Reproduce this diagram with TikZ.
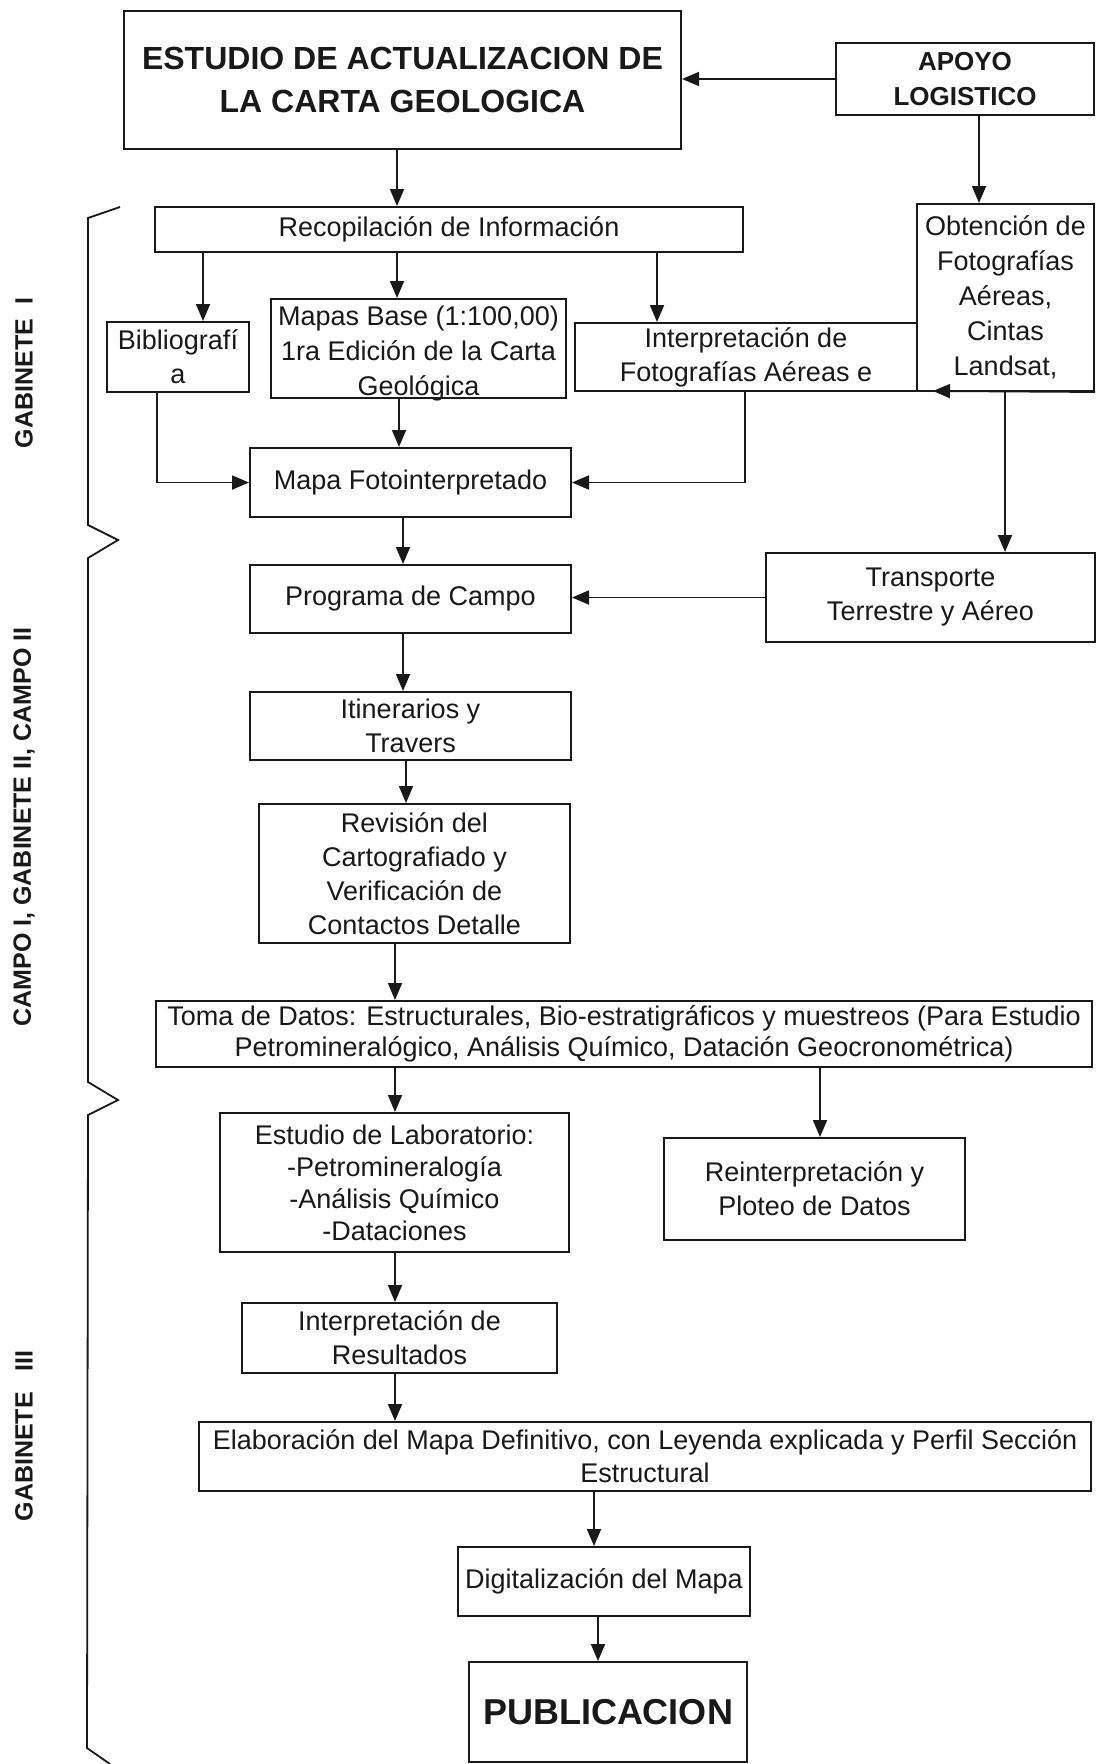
\documentclass[tikz,border=0pt]{standalone}
\usepackage{fontspec}
\setmainfont{Liberation Sans}
\usetikzlibrary{arrows.meta}
\definecolor{ink}{RGB}{25,25,25}
\begin{document}
\begin{tikzpicture}[x=1pt,y=-1pt,
  box/.style={draw=ink, line width=2pt, inner sep=0pt, align=center, text=ink,
              font=\fontsize{27}{34}\selectfont},
  txt/.style={inner sep=0pt, align=center, text=ink, font=\fontsize{27}{35}\selectfont},
  arr/.style={draw=ink, line width=1.8pt, -{Triangle[length=17pt,width=14pt]}},
  ln/.style={draw=ink, line width=1.8pt},
  side/.style={font=\bfseries\fontsize{25}{30}\selectfont, rotate=90, text=ink, inner sep=0pt}]
\useasboundingbox[fill=white] (0,0) rectangle (1097,1764);

% boxes
\node[box, minimum width=557pt, minimum height=138pt, font=\bfseries\fontsize{32}{43}\selectfont]
  (main) at (402.5,80) {ESTUDIO DE ACTUALIZACION DE\\LA CARTA GEOLOGICA};
\node[box, minimum width=258pt, minimum height=72pt, font=\bfseries\fontsize{26}{35}\selectfont]
  (apoyo) at (965,79) {APOYO\\LOGISTICO};
\node[box, minimum width=588pt, minimum height=45pt] (recop) at (449,229.5) {Recopilación de Información};
\node[box, minimum width=177pt, minimum height=187pt, font=\fontsize{27}{35}\selectfont]
  (obt) at (1005.5,297.5) {Obtención de\\Fotografías\\Aéreas,\\Cintas\\Landsat,};
\node[box, minimum width=142pt, minimum height=70pt] (biblio) at (178,357) {Bibliografí\\a};
\node[box, minimum width=295pt, minimum height=99pt] (mapas) at (418.5,348.5) {};
\node[txt] (mapast) at (418.5,354) {Mapas Base (1:100,00)\\1ra Edición de la Carta\\Geológica};
\node[box, minimum width=342pt, minimum height=68pt] (interp) at (746,357) {Interpretación de\\Fotografías Aéreas e};
\node[box, minimum width=321pt, minimum height=69pt] (mapafoto) at (410.5,482.5) {Mapa Fotointerpretado};
\node[box, minimum width=329pt, minimum height=89pt] (transp) at (930.5,597.5) {Transporte\\Terrestre y Aéreo};
\node[box, minimum width=321pt, minimum height=68pt] (prog) at (410.5,599) {Programa de Campo};
\node[box, minimum width=321pt, minimum height=68pt] (itin) at (410.5,726) {Itinerarios y\\Travers};
\node[box, minimum width=311pt, minimum height=139pt] (revis) at (414.5,873.5)
  {Revisión del\\Cartografiado y\\Verificación de\\Contactos Detalle};
\node[box, minimum width=936pt, minimum height=66pt, font=\fontsize{27}{31}\selectfont] (toma) at (624,1034)
  {Toma de Datos: Estructurales, Bio-estratigráficos y muestreos (Para Estudio\\Petromineralógico, Análisis Químico, Datación Geocronométrica)};
\node[box, minimum width=349pt, minimum height=139pt, font=\fontsize{27}{32}\selectfont] (estudio) at (394.5,1182.5)
  {Estudio de Laboratorio:\\-Petromineralogía\\-Análisis Químico\\-Dataciones};
\node[box, minimum width=301pt, minimum height=102pt] (reint) at (814.5,1189) {Reinterpretación y\\Ploteo de Datos};
\node[box, minimum width=315pt, minimum height=70pt] (intres) at (399.5,1338) {Interpretación de\\Resultados};
\node[box, minimum width=892pt, minimum height=69pt, font=\fontsize{27}{33}\selectfont] (elab) at (645,1456.5)
  {Elaboración del Mapa Definitivo, con Leyenda explicada y Perfil Sección\\Estructural};
\node[box, minimum width=292pt, minimum height=69pt] (digit) at (604,1581.5) {Digitalización del Mapa};
\node[box, minimum width=278pt, minimum height=100pt, font=\bfseries\fontsize{36}{40}\selectfont]
  (pub) at (608,1712) {PUBLICACION};

% side labels
\node[side] (lab1) at (24,373) {GABINETE\ \ I};
\node[side] (lab2) at (24,827) {CAMPO I, GABINETE II, CAMPO II};
\node[side] (lab3) at (24,1436) {GABINETE\ \ \ III};

% x positions of connectors
\coordinate (xa) at (397,0);
\coordinate (xb) at (979,0);
\coordinate (xc) at (203,0);
\coordinate (xd) at (657,0);
\coordinate (xe) at (1005,0);
\coordinate (xf) at (157,0);
\coordinate (xg) at (745,0);
\coordinate (xh) at (399,0);
\coordinate (xi) at (403,0);
\coordinate (xj) at (406,0);
\coordinate (xk) at (395,0);
\coordinate (xl) at (820,0);
\coordinate (xm) at (594,0);
\coordinate (xn) at (598,0);
\coordinate (obtend) at (933,391);

% connectors
\draw[arr] (apoyo.west) -- (main.east |- apoyo.west);
\draw[arr] (main.south -| xa) -- (recop.north -| xa);
\draw[arr] (apoyo.south -| xb) -- (obt.north -| xb);
\draw[arr] (recop.south -| xc) -- (biblio.north -| xc);
\draw[arr] (recop.south -| xa) -- (mapas.north -| xa);
\draw[arr] (recop.south -| xd) -- (interp.north -| xd);
\draw[arr] (obt.south east) -- (obtend);
\draw[arr] (obt.south -| xe) -- (transp.north -| xe);
\draw[arr] (biblio.south -| xf) |- (mapafoto.west);
\draw[arr] (interp.south -| xg) |- (mapafoto.east);
\draw[arr] (mapas.south -| xh) -- (mapafoto.north -| xh);
\draw[arr] (mapafoto.south -| xi) -- (prog.north -| xi);
\draw[arr] (transp.west) -- (prog.east |- transp.west);
\draw[arr] (prog.south -| xi) -- (itin.north -| xi);
\draw[arr] (itin.south -| xj) -- (revis.north -| xj);
\draw[arr] (revis.south -| xk) -- (toma.north -| xk);
\draw[arr] (toma.south -| xk) -- (estudio.north -| xk);
\draw[arr] (toma.south -| xl) -- (reint.north -| xl);
\draw[arr] (estudio.south -| xk) -- (intres.north -| xk);
\draw[arr] (intres.south -| xk) -- (elab.north -| xk);
\draw[arr] (elab.south -| xm) -- (digit.north -| xm);
\draw[arr] (digit.south -| xn) -- (pub.north -| xn);

% braces
\draw[ln, line join=miter] (120,207) -- (88,218) -- (88,525) -- (118,540) -- (88,558)
  -- (88,1082) -- (118,1100) -- (88,1115) -- (87,1748) -- (110,1764);
\end{tikzpicture}
\end{document}
